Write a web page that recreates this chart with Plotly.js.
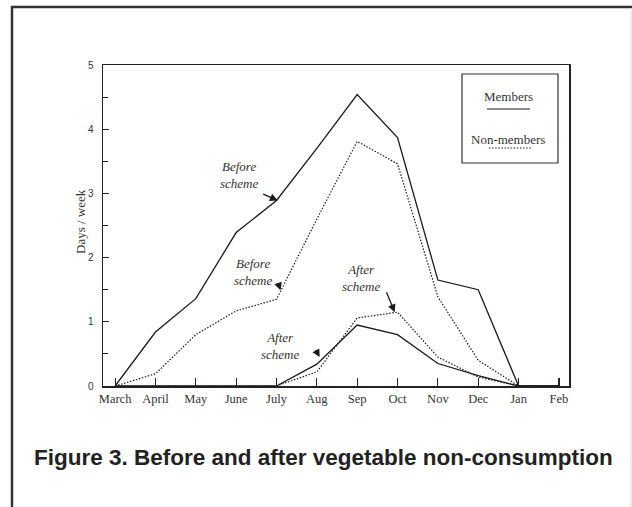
<!DOCTYPE html>
<html>
<head>
<meta charset="utf-8">
<script src="https://cdn.plot.ly/plotly-3.0.1.min.js"></script>
<style>html,body{margin:0;padding:0;background:#fff;}#chart{width:632px;height:507px;}</style>
</head>
<body>
<div id="chart"></div>
<script>
// ---- data ----
var months = ['March','April','May','June','July','Aug','Sep','Oct','Nov','Dec','Jan','Feb'];
var membersBefore    = [0, 0.84, 1.36, 2.39, 2.89, 3.70, 4.54, 3.87, 1.65, 1.50, 0, 0];
var nonMembersBefore = [0, 0.19, 0.80, 1.17, 1.35, 2.60, 3.81, 3.46, 1.39, 0.40, 0, 0];
var membersAfter     = [0, 0, 0, 0, 0, 0.34, 0.95, 0.80, 0.35, 0.16, 0, 0];
var nonMembersAfter  = [0, 0, 0, 0, 0, 0.22, 1.06, 1.15, 0.45, 0.14, 0, 0];
var yTicks = [0, 1, 2, 3, 4, 5];
var titleText = 'Figure 3. Before and after vegetable non-consumption';
var yTitle = 'Days / week';
var legendLabels = ['Members', 'Non-members'];

// ---- layout helpers (plot area: x 103..569, y 65..386) ----
var L = 103, R = 569, T = 65, B = 386;
function xp(px){ return (px - L) / (R - L); }
function yp(py){ return (B - py) / (B - T); }

var idx = months.map(function(_, i){ return i; });
var ink = '#1a1a1a';
var dotted = '1.5px,1.6px';
var serif = '"Liberation Serif", "Times New Roman", serif';
var sans = '"Liberation Sans", Arial, sans-serif';

function series(y, dash){
  return {x: idx, y: y, type: 'scatter', mode: 'lines', showlegend: false,
          line: {color: ink, width: dash ? 1.2 : 1.3, dash: dash ? dotted : 'solid'},
          hoverinfo: 'skip'};
}
var data = [
  series(membersBefore, false),
  series(nonMembersBefore, true),
  series(membersAfter, false),
  series(nonMembersAfter, true)
];

function note(text, x, y){
  return {text: '<i>' + text + '</i>', x: x, y: y, xref: 'x', yref: 'y', showarrow: false,
          font: {family: serif, size: 13, color: '#333'}, xanchor: 'center', yanchor: 'middle'};
}
function arrow(x, y, ax, ay){
  return {text: ' ', x: x, y: y, xref: 'x', yref: 'y', showarrow: true, ax: ax, ay: ay,
          arrowhead: 2, arrowsize: 1.2, arrowwidth: 1.3, arrowcolor: ink, standoff: 0, startstandoff: 0,
          font: {size: 1}};
}

var annotations = [
  note('Before<br>scheme', 3.07, 3.28), arrow(4.03, 2.89, -16, -7),
  note('Before<br>scheme', 3.42, 1.78), arrow(4.10, 1.49, -3, -9),
  note('After<br>scheme', 4.08, 0.62), arrow(5.07, 0.45, -5, -9),
  note('After<br>scheme', 6.09, 1.69), arrow(6.93, 1.15, -9, -22),
  {text: legendLabels[0], x: xp(508), y: yp(96), xref: 'paper', yref: 'paper', showarrow: false,
   font: {family: serif, size: 13, color: '#333'}, xanchor: 'center', yanchor: 'middle'},
  {text: legendLabels[1], x: xp(508), y: yp(139), xref: 'paper', yref: 'paper', showarrow: false,
   font: {family: serif, size: 13, color: '#333'}, xanchor: 'center', yanchor: 'middle'},
  {text: yTitle, x: xp(80), y: yp(222), xref: 'paper', yref: 'paper', showarrow: false, textangle: -90,
   font: {family: serif, size: 13, color: '#333'}, xanchor: 'center', yanchor: 'middle'},
  {text: '<b>' + titleText + '</b>', x: xp(323), y: yp(457), xref: 'paper', yref: 'paper', showarrow: false,
   font: {family: sans, size: 22.5, color: '#222'}, xanchor: 'center', yanchor: 'middle'}
];

var shapes = [
  // outer frame
  {type: 'line', xref: 'paper', yref: 'paper', x0: xp(11), x1: xp(633), y0: yp(7), y1: yp(7), line: {color: '#333', width: 2.5}},
  {type: 'line', xref: 'paper', yref: 'paper', x0: xp(12), x1: xp(12), y0: yp(6), y1: yp(508), line: {color: '#333', width: 2.5}},
  {type: 'line', xref: 'paper', yref: 'paper', x0: xp(631), x1: xp(631), y0: yp(8), y1: yp(508), line: {color: '#ddd', width: 1}},
  // legend box
  {type: 'rect', xref: 'paper', yref: 'paper', x0: xp(462), x1: xp(558), y0: yp(74), y1: yp(163), line: {color: '#333', width: 1.2}, fillcolor: 'rgba(0,0,0,0)'},
  {type: 'line', xref: 'paper', yref: 'paper', x0: xp(487), x1: xp(530), y0: yp(109), y1: yp(109), line: {color: ink, width: 1.2}},
  {type: 'line', xref: 'paper', yref: 'paper', x0: xp(489), x1: xp(532), y0: yp(148), y1: yp(148), line: {color: ink, width: 1.1, dash: dotted}}
];

var layout = {
  width: 632, height: 507,
  margin: {l: L, r: 632 - R, t: T, b: 507 - B, pad: 0},
  paper_bgcolor: '#fff', plot_bgcolor: '#fff',
  showlegend: false,
  xaxis: {
    range: [-0.3, 11.25], tickvals: idx, ticktext: months,
    ticks: 'inside', ticklen: 8, tickwidth: 1.2, tickcolor: '#222',
    showline: true, linecolor: '#222', linewidth: 1.5, mirror: true,
    showgrid: false, zeroline: false,
    tickfont: {family: serif, size: 12.5, color: '#333'}
  },
  yaxis: {
    range: [0, 5], tickvals: yTicks,
    ticks: 'inside', ticklen: 6, tickwidth: 1.2, tickcolor: '#222',
    minor: {ticks: 'inside', dtick: 0.5, ticklen: 5, tickwidth: 1.2, tickcolor: '#222', showgrid: false},
    showline: true, linecolor: '#222', linewidth: 1.5, mirror: true,
    showgrid: false, zeroline: false, ticklabelstandoff: 6,
    tickfont: {family: sans, size: 10, color: '#333'}
  },
  annotations: annotations,
  shapes: shapes
};

Plotly.newPlot('chart', data, layout, {displayModeBar: false, staticPlot: true});
</script>
</body>
</html>
